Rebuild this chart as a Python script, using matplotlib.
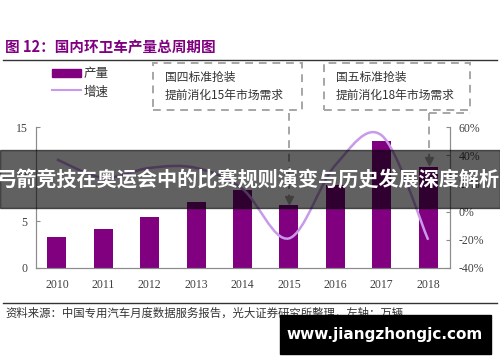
import matplotlib
matplotlib.use('Agg')
import matplotlib.pyplot as plt
from matplotlib.path import Path
from matplotlib.patches import PathPatch, Rectangle
from matplotlib.lines import Line2D
from matplotlib.ticker import FuncFormatter

plt.rcParams['font.family'] = ['Noto Sans CJK SC', 'DejaVu Sans']

years = ['2010', '2011', '2012', '2013', '2014', '2015', '2016', '2017', '2018']
output = [3.3, 4.15, 5.4, 7.0, 8.3, 6.7, 8.8, 13.5, 10.75]   # 万辆
growth = [37, 24, 31, 31, 16, -19, 33, 54, -20]            # %

title = '图 12：国内环卫车产量总周期图'
source = '资料来源：中国专用汽车月度数据服务报告，光大证券研究所整理，左轴：万辆'
note1 = ['国四标准抢装', '提前消化15年市场需求']
note2 = ['国五标准抢装', '提前消化18年市场需求']
banner = '弓箭竞技在奥运会中的比赛规则演变与历史发展深度解析'
site = 'www.jiangzhongjc.com'

W, H = 500, 362
BAR = '#800080'
LINE = '#C99AEA'
SERIF = 'Liberation Serif'


def fx(x):
    return x / W


def fy(y):
    return 1 - y / H


fig = plt.figure(figsize=(5, 3.62), dpi=100)
ax = fig.add_axes([fx(36), fy(268), fx(450) - fx(36), fy(127) - fy(268)])
ax2 = ax.twinx()

xs = list(range(len(years)))
ax.bar(xs, output, width=0.41, color=BAR, zorder=2)
ax.set_xlim(-0.45, 8.47)
ax.set_ylim(0, 15)
ax.set_yticks([0, 5, 10, 15])
ax.set_xticks(xs)
ax.set_xticklabels(years)
ax2.set_ylim(-40, 60)
ax2.set_yticks([-40, -20, 0, 20, 40, 60])
ax2.yaxis.set_major_formatter(FuncFormatter(lambda v, p: '%d%%' % v))

# smooth growth line (Catmull-Rom -> cubic Bezier)
pts = list(zip(xs, growth))
verts = [pts[0]]
codes = [Path.MOVETO]
for i in range(len(pts) - 1):
    p0 = pts[i - 1] if i > 0 else pts[i]
    p1 = pts[i]
    p2 = pts[i + 1]
    p3 = pts[i + 2] if i + 2 < len(pts) else pts[i + 1]
    c1 = (p1[0] + (p2[0] - p0[0]) / 6, p1[1] + (p2[1] - p0[1]) / 6)
    c2 = (p2[0] - (p3[0] - p1[0]) / 6, p2[1] - (p3[1] - p1[1]) / 6)
    verts += [c1, c2, p2]
    codes += [Path.CURVE4] * 3
ax2.add_patch(PathPatch(Path(verts, codes), facecolor='none', edgecolor=LINE, lw=1.8, zorder=3))

for a in (ax, ax2):
    a.spines['top'].set_visible(False)
    for s in ('left', 'right', 'bottom'):
        a.spines[s].set_color('#8c8c8c')
        a.spines[s].set_linewidth(0.8)
    a.tick_params(axis='y', direction='in', length=3, color='#8c8c8c', labelsize=8.5,
                  labelcolor='#404040', pad=6)
    for lab in a.get_yticklabels():
        lab.set_fontfamily(SERIF)
ax.tick_params(axis='x', length=0, labelsize=8.5, labelcolor='#404040', pad=8)
for lab in ax.get_xticklabels():
    lab.set_fontfamily(SERIF)

# title and rules
fig.text(fx(5), fy(47), title, color=BAR, fontsize=10.5, fontweight='bold', va='center')
fig.add_artist(Line2D([fx(3), fx(497)], [fy(60), fy(60)], color='#333333', lw=1))
fig.add_artist(Line2D([fx(3), fx(497)], [fy(303), fy(303)], color='#333333', lw=1))
fig.text(fx(5), fy(313), source, color='#333333', fontsize=8.2, va='center')

# legend
fig.add_artist(Rectangle((fx(52), fy(77)), fx(29), fy(69) - fy(77), color=BAR))
fig.add_artist(Line2D([fx(52), fx(81)], [fy(90), fy(90)], color=LINE, lw=1.5))
fig.text(fx(84), fy(73), '产量', fontsize=9, color='#333333', va='center')
fig.text(fx(84), fy(92), '增速', fontsize=9, color='#333333', va='center')

# annotation boxes
dash = (0, (4, 3))
for (x0, x1, lines) in ((153, 302, note1), (324, 470, note2)):
    fig.add_artist(Rectangle((fx(x0), fy(110)), fx(x1 - x0), fy(63) - fy(110), fill=False,
                             edgecolor='#a6a6a6', lw=1.4, linestyle=dash))
    fig.text(fx(x0 + 12), fy(77), lines[0], fontsize=8.5, color='#333333', va='center')
    fig.text(fx(x0 + 12), fy(95), lines[1], fontsize=8.5, color='#333333', va='center')

for (x, y1) in ((289, 203), (429, 164)):
    fig.add_artist(Line2D([fx(x), fx(x)], [fy(113), fy(y1 - 6)], color='#a6a6a6', lw=1.4,
                          linestyle=dash))
    fig.add_artist(Line2D([fx(x)], [fy(y1 - 3)], marker='v', markersize=6,
                          color='#a6a6a6', lw=0))
fig.add_artist(Line2D([fx(429), fx(470)], [fy(113), fy(113)], color='#a6a6a6', lw=1.4,
                      linestyle=dash))

# overlay banner
fig.add_artist(Rectangle((0, fy(208)), 1, fy(150) - fy(208), color='black', alpha=0.62,
                         zorder=5))
fig.text(fx(248), fy(180), banner, color='white', fontsize=14.5, fontweight='bold',
         ha='center', va='center', zorder=6)

# watermark
fig.add_artist(Rectangle((fx(280), fy(354)), fx(211), fy(315) - fy(354), color='black',
                         zorder=5))
fig.text(fx(385), fy(335), site, color='white', fontsize=11, fontweight='bold',
         ha='center', va='center', family='DejaVu Sans', zorder=6)

fig.savefig('out.png', dpi=100)
